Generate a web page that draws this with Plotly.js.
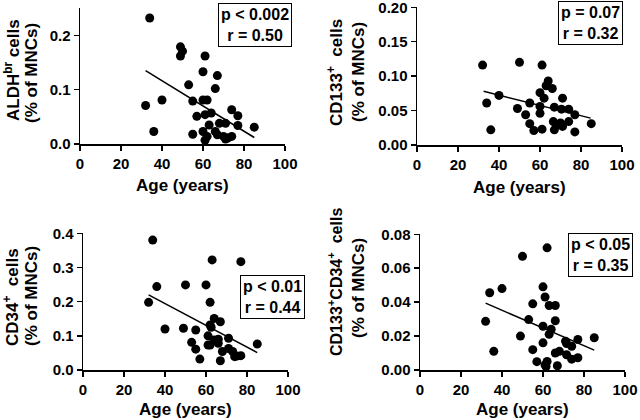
<!DOCTYPE html>
<html>
<head>
<meta charset="utf-8">
<script src="https://cdn.plot.ly/plotly-3.0.1.min.js"></script>
<style>html,body{margin:0;padding:0;background:#fff;}#chart{width:640px;height:420px;}</style>
</head>
<body>
<div id="chart"></div>
<script>
// Panel A: ALDHbr cells
var ageA = [34, 32, 36, 40, 49, 50, 49, 53, 55, 55, 57, 60, 61, 60, 62, 60, 61, 62, 61, 63, 64, 67, 66, 66, 67, 68, 70, 71, 71, 74, 74, 77, 77, 85, 72];
var valA = [0.232, 0.071, 0.023, 0.081, 0.179, 0.171, 0.162, 0.109, 0.079, 0.018, 0.051, 0.133, 0.162, 0.081, 0.081, 0.023, 0.007, 0.014, 0.054, 0.035, 0.057, 0.126, 0.102, 0.023, 0.017, 0.038, 0.014, 0.038, 0.009, 0.063, 0.014, 0.052, 0.034, 0.031, 0.011];
var fitAgeA = [32, 85];
var fitA = [0.135, 0.012];
var yTicksA = [0, 0.1, 0.2];

// Panel B: CD133+ cells
var ageB = [32, 50, 61, 64, 63, 66, 60, 62, 40, 34, 55, 60, 60, 49, 53, 67, 71, 70.5, 74, 77, 55, 57, 61, 66.5, 70, 74, 67, 71, 77, 85, 36, 68];
var valB = [0.116, 0.120, 0.116, 0.093, 0.086, 0.082, 0.076, 0.068, 0.072, 0.061, 0.061, 0.056, 0.046, 0.053, 0.044, 0.055, 0.068, 0.052, 0.052, 0.044, 0.031, 0.021, 0.023, 0.034, 0.032, 0.034, 0.022, 0.027, 0.019, 0.031, 0.022, 0.029];
var fitAgeB = [32.5, 84.7];
var fitB = [0.078, 0.039];
var yTicksB = [0, 0.05, 0.10, 0.15, 0.20];

// Panel C: CD34+ cells
var ageC = [34, 36, 32, 40, 49, 50, 53, 55, 55, 57, 60, 62, 63, 61, 62, 62.5, 61, 62, 64, 67, 64, 66, 66, 68, 67, 71, 71, 73, 74, 75, 77, 77, 85];
var valC = [0.380, 0.244, 0.198, 0.120, 0.122, 0.249, 0.081, 0.117, 0.061, 0.032, 0.249, 0.198, 0.322, 0.100, 0.132, 0.125, 0.073, 0.073, 0.151, 0.141, 0.088, 0.090, 0.078, 0.054, 0.027, 0.093, 0.063, 0.054, 0.039, 0.041, 0.042, 0.317, 0.076];
var fitAgeC = [32, 85];
var fitC = [0.220, 0.051];
var yTicksC = [0, 0.1, 0.2, 0.3, 0.4];

// Panel D: CD133+CD34+ cells
var ageD = [32, 34, 36, 40, 49, 50, 53, 55, 55, 57, 60, 60, 60, 61, 61, 62, 63, 63, 64, 62, 61.5, 66, 66, 66, 67, 68, 71, 71.5, 71.5, 74, 74, 77, 77, 85];
var valD = [0.0287, 0.0455, 0.011, 0.048, 0.020, 0.067, 0.0297, 0.039, 0.012, 0.0049, 0.049, 0.0258, 0.016, 0.043, 0.003, 0.072, 0.038, 0.021, 0.024, 0.005, 0.002, 0.038, 0.029, 0.010, 0.0025, 0.011, 0.017, 0.009, 0.0156, 0.014, 0.0064, 0.018, 0.0072, 0.019];
var fitAgeD = [32, 85];
var fitD = [0.0394, 0.0117];
var yTicksD = [0, 0.02, 0.04, 0.06, 0.08];

var yTitles = [
  ["ALDH<sup>br</sup> cells", "(% of MNCs)"],
  ["CD133<sup>+</sup>  cells", "(% of MNCs)"],
  ["CD34<sup>+</sup>  cells", "(% of MNCs)"],
  ["CD133<sup>+</sup>CD34<sup>+</sup>  cells", "(% of MNCs)"]
];
var statText = ["p < 0.002<br>r = 0.50", "p = 0.07<br>r = 0.32", "p < 0.01<br>r = 0.44", "p < 0.05<br>r = 0.35"];
var xTitle = "Age (years)";
var xTicks = [0, 20, 40, 60, 80, 100];

var W = 640, H = 420;
function px(x){ return x / W; }
function py(y){ return 1 - y / H; }

var FAM = "Liberation Sans, Arial, sans-serif";
var TICKFONT = {family: FAM, size: 15, color: "#000", weight: "bold"};
var TITLEFONT = {family: FAM, size: 17, color: "#000", weight: "bold"};
var TITLEFONT_S = {family: FAM, size: 16, color: "#000", weight: "bold"};
var BOXFONT = {family: FAM, size: 16, color: "#000", weight: "bold"};

var panels = [
  {age: ageA, val: valA, fx: fitAgeA, fy: fitA, x0: 80, x1: 285, yt: 8, yb: 144, range: [0, 0.25], ticks: yTicksA, dec: 1,
   t1: [12, 70], t2: [31, 73], xt: [182.5, 185], box: [255, 24.5], f1: TITLEFONT},
  {age: ageB, val: valB, fx: fitAgeB, fy: fitB, x0: 417, x1: 622, yt: 7, yb: 145, range: [0, 0.2], ticks: yTicksB, dec: 2,
   t1: [335, 73], t2: [358, 72], xt: [519.5, 187], box: [590.5, 23], f1: TITLEFONT},
  {age: ageC, val: valC, fx: fitAgeC, fy: fitC, x0: 83, x1: 288, yt: 233, yb: 370, range: [0, 0.4], ticks: yTicksC, dec: 1,
   t1: [11, 297], t2: [31, 296], xt: [185.5, 409], box: [272.5, 296.5], f1: TITLEFONT},
  {age: ageD, val: valD, fx: fitAgeD, fy: fitD, x0: 420, x1: 625, yt: 234, yb: 370, range: [0, 0.08], ticks: yTicksD, dec: 2,
   t1: [335, 282], t2: [358, 288], xt: [522.5, 409], box: [600.5, 255], f1: TITLEFONT_S}
];

var data = [], annotations = [];
var layout = {
  width: W, height: H,
  margin: {l: 0, r: 0, t: 0, b: 0},
  paper_bgcolor: "#fff", plot_bgcolor: "#fff",
  showlegend: false,
  font: TICKFONT
};

panels.forEach(function(p, i){
  var n = i + 1;
  var xa = "x" + (n === 1 ? "" : n), ya = "y" + (n === 1 ? "" : n);
  var xk = "xaxis" + (n === 1 ? "" : n), yk = "yaxis" + (n === 1 ? "" : n);
  data.push({
    type: "scatter", mode: "markers", x: p.age, y: p.val, xaxis: xa, yaxis: ya,
    marker: {color: "#000", size: 9}, cliponaxis: false, hoverinfo: "skip"
  });
  data.push({
    type: "scatter", mode: "lines", x: p.fx, y: p.fy, xaxis: xa, yaxis: ya,
    line: {color: "#000", width: 1.5}, hoverinfo: "skip"
  });
  layout[xk] = {
    domain: [px(p.x0), px(p.x1)], anchor: ya, range: [0, 100],
    tickmode: "array", tickvals: xTicks, ticktext: xTicks.map(String),
    showline: true, linecolor: "#000", linewidth: 1.5,
    ticks: "outside", ticklen: 5, tickwidth: 1.5, tickcolor: "#000",
    showgrid: false, zeroline: false, tickfont: TICKFONT, fixedrange: true,
    ticklabeloverflow: "allow"
  };
  layout[yk] = {
    domain: [py(p.yb), py(p.yt)], anchor: xa, range: [p.range[0], p.range[1] * 1.002],
    tickmode: "array", tickvals: p.ticks, ticktext: p.ticks.map(function(v){ return v.toFixed(p.dec); }),
    showline: true, linecolor: "#000", linewidth: 1.5,
    ticks: "outside", ticklen: 5, tickwidth: 1.5, tickcolor: "#000",
    showgrid: false, zeroline: false, tickfont: TICKFONT, fixedrange: true,
    ticklabeloverflow: "allow"
  };
  annotations.push({xref: "paper", yref: "paper", x: px(p.t1[0]), y: py(p.t1[1]), text: yTitles[i][0],
    textangle: -90, showarrow: false, xanchor: "center", yanchor: "middle", font: p.f1});
  annotations.push({xref: "paper", yref: "paper", x: px(p.t2[0]), y: py(p.t2[1]), text: yTitles[i][1],
    textangle: -90, showarrow: false, xanchor: "center", yanchor: "middle", font: TITLEFONT});
  annotations.push({xref: "paper", yref: "paper", x: px(p.xt[0]), y: py(p.xt[1]), text: xTitle,
    showarrow: false, xanchor: "center", yanchor: "middle", font: TITLEFONT});
  annotations.push({xref: "paper", yref: "paper", x: px(p.box[0]), y: py(p.box[1]), text: statText[i],
    showarrow: false, xanchor: "center", yanchor: "middle", align: "center",
    bordercolor: "#000", borderwidth: 1, borderpad: 2, bgcolor: "#fff", font: BOXFONT});
});
layout.annotations = annotations;

Plotly.newPlot("chart", data, layout, {staticPlot: true, displayModeBar: false});
</script>
</body>
</html>
